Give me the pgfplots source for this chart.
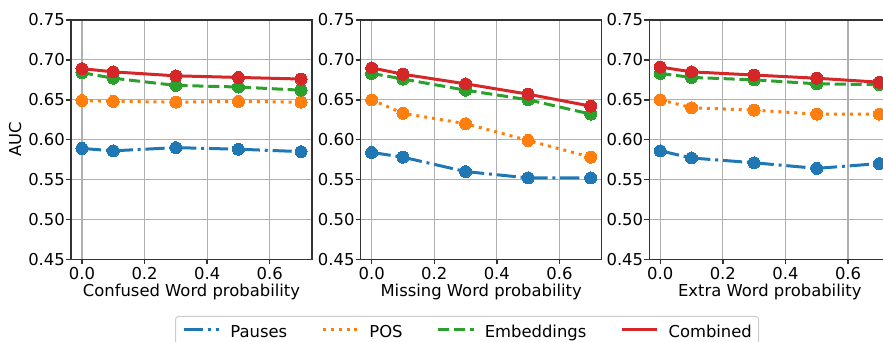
\documentclass[border=0pt]{standalone}
\usepackage{pgfplots}
\pgfplotsset{compat=1.18}
\usepackage{fontspec}
\setmainfont{DejaVu Sans}
\definecolor{tabblue}{HTML}{1F77B4}
\definecolor{taborange}{HTML}{FF7F0E}
\definecolor{tabgreen}{HTML}{2CA02C}
\definecolor{tabred}{HTML}{D62728}
\definecolor{gridgray}{HTML}{B0B0B0}
\definecolor{spine}{HTML}{333333}
\definecolor{legendgray}{HTML}{CCCCCC}
\newcommand{\fs}{\fontsize{16.4pt}{19pt}\selectfont}
\pgfplotsset{
  myax/.style={
    scale only axis, width=241pt, height=239.3pt,
    xmin=-0.035, xmax=0.735, ymin=0.45, ymax=0.75,
    xtick={0,0.2,0.4,0.6}, ytick={0.45,0.5,0.55,0.6,0.65,0.7,0.75},
    xticklabel style={/pgf/number format/.cd, fixed, fixed zerofill, precision=1},
    yticklabel style={/pgf/number format/.cd, fixed, fixed zerofill, precision=2},
    /pgf/number format/assume math mode=true,
    tick label style={font=\fs, inner sep=0pt},
    xticklabel shift=2.4pt, yticklabel shift=1pt,
    label style={font=\fs},
    grid=major, grid style={line width=1.1pt, color=gridgray},
    axis line style={line width=1.5pt, color=spine},
    tick align=outside, tick pos=left, major tick length=5pt,
    major tick style={line width=1.5pt, color=spine},
    xlabel style={at={(axis description cs:0.5,-0.1575)}, anchor=base, inner sep=0pt},
    legend image code/.code={\draw[#1] (0pt,1.4pt) -- (35.6pt,1.4pt);},
  },
  pauses/.style={tabblue, line width=3pt, dash pattern=on 19.2pt off 4.8pt on 3pt off 4.8pt, mark=*, mark size=6pt, mark options={solid, fill=tabblue, line width=0pt}},
  pos/.style={taborange, line width=3pt, dash pattern=on 3pt off 4.95pt, mark=*, mark size=6pt, mark options={solid, fill=taborange, line width=0pt}},
  emb/.style={tabgreen, line width=3pt, dash pattern=on 11.1pt off 4.8pt, mark=*, mark size=6pt, mark options={solid, fill=tabgreen, line width=0pt}},
  comb/.style={tabred, line width=3pt, mark=*, mark size=6pt, mark options={solid, fill=tabred, line width=0pt}},
}
\begin{document}
\begin{tikzpicture}
\begin{axis}[myax, at={(71pt,82.7pt)}, anchor=south west,
  xlabel={Confused Word probability}, ylabel={AUC},
  ylabel style={at={(axis description cs:-0.232,0.5)}, anchor=center, inner sep=0pt}]
\addplot[pauses] coordinates {(0,0.589)(0.1,0.586)(0.3,0.590)(0.5,0.588)(0.7,0.585)};
\addplot[pos] coordinates {(0,0.649)(0.1,0.648)(0.3,0.647)(0.5,0.648)(0.7,0.647)};
\addplot[emb] coordinates {(0,0.684)(0.1,0.677)(0.3,0.668)(0.5,0.666)(0.7,0.662)};
\addplot[comb] coordinates {(0,0.689)(0.1,0.685)(0.3,0.680)(0.5,0.678)(0.7,0.676)};
\end{axis}
\begin{axis}[myax, at={(360.7pt,82.7pt)}, anchor=south west,
  xlabel={Missing Word probability},
  legend columns=4, legend cell align=left,
  legend style={at={(axis description cs:-0.7705,-0.2369)}, anchor=north west,
    draw=legendgray, line width=1pt, rounded corners=3pt, fill=white,
    inner xsep=6.7pt, inner ysep=8.7pt, font=\fs,
    nodes={inner sep=0pt, text height=12pt, text depth=0pt},
    /tikz/every odd column/.style={column sep=9.6pt},
    /tikz/every even column/.style={column sep=34pt}}]
\addplot[pauses] coordinates {(0,0.584)(0.1,0.578)(0.3,0.560)(0.5,0.552)(0.7,0.552)};
\addplot[pos] coordinates {(0,0.650)(0.1,0.633)(0.3,0.620)(0.5,0.599)(0.7,0.578)};
\addplot[emb] coordinates {(0,0.683)(0.1,0.676)(0.3,0.662)(0.5,0.650)(0.7,0.632)};
\addplot[comb] coordinates {(0,0.690)(0.1,0.682)(0.3,0.670)(0.5,0.657)(0.7,0.642)};
\legend{Pauses, POS, Embeddings, Combined}
\end{axis}
\begin{axis}[myax, at={(649.3pt,82.7pt)}, anchor=south west,
  xlabel={Extra Word probability}]
\addplot[pauses] coordinates {(0,0.586)(0.1,0.577)(0.3,0.571)(0.5,0.564)(0.7,0.570)};
\addplot[pos] coordinates {(0,0.650)(0.1,0.640)(0.3,0.637)(0.5,0.632)(0.7,0.632)};
\addplot[emb] coordinates {(0,0.683)(0.1,0.678)(0.3,0.675)(0.5,0.670)(0.7,0.669)};
\addplot[comb] coordinates {(0,0.691)(0.1,0.685)(0.3,0.681)(0.5,0.677)(0.7,0.672)};
\end{axis}
\pgfresetboundingbox
\useasboundingbox (0pt,0pt) rectangle (883pt,342pt);
\end{tikzpicture}
\end{document}
